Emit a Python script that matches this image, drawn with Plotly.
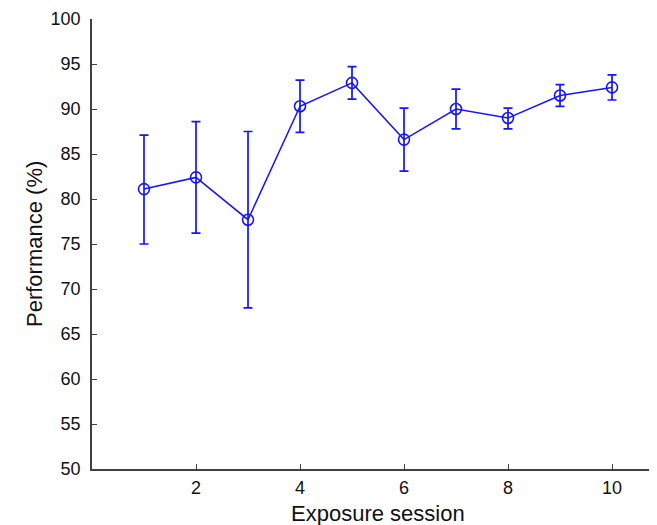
import plotly.graph_objects as go

sessions = [1, 2, 3, 4, 5, 6, 7, 8, 9, 10]
performance = [81.1, 82.4, 77.7, 90.3, 92.9, 86.6, 90.0, 89.0, 91.5, 92.4]
err_plus = [6.0, 6.2, 9.8, 2.9, 1.8, 3.5, 2.2, 1.1, 1.2, 1.4]
err_minus = [6.1, 6.2, 9.8, 2.9, 1.8, 3.5, 2.2, 1.2, 1.2, 1.4]

y_ticks = [50, 55, 60, 65, 70, 75, 80, 85, 90, 95, 100]
x_ticks = [2, 4, 6, 8, 10]

blue = "#1414ff"
fam = "Liberation Sans, Arial, sans-serif"

fig = go.Figure()
fig.add_trace(go.Scatter(
    x=sessions, y=performance, mode="lines+markers",
    line=dict(color=blue, width=1.5),
    marker=dict(symbol="circle-open", size=11, color=blue, line=dict(width=1.6, color=blue)),
    error_y=dict(type="data", symmetric=False, array=err_plus, arrayminus=err_minus,
                 color=blue, thickness=1.7, width=4.5),
    showlegend=False,
))

tick_font = dict(family=fam, size=18, color="#111111")
title_font = dict(family=fam, size=22, color="#111111")
fig.update_layout(
    width=657, height=525,
    margin=dict(l=84, r=8, t=11, b=64, autoexpand=False),
    plot_bgcolor="white", paper_bgcolor="white",
    font=tick_font,
    xaxis=dict(range=[0, 10.865], tickvals=x_ticks, ticks="inside", ticklen=5,
               tickcolor="#404040", showline=True, linecolor="#404040", linewidth=1.5,
               showgrid=False, zeroline=False, tickfont=tick_font, ticklabelstandoff=2,
               automargin=False),
    yaxis=dict(range=[50, 100], tickvals=y_ticks, ticks="inside", ticklen=5,
               tickcolor="#404040", showline=True, linecolor="#404040", linewidth=1.5,
               showgrid=False, zeroline=False, tickfont=tick_font, ticklabelstandoff=6,
               automargin=False),
    annotations=[
        dict(text="Exposure session", xref="paper", yref="paper", x=0.506, y=0,
             xanchor="center", yanchor="middle", yshift=-44, showarrow=False, font=title_font),
        dict(text="Performance (%)", xref="paper", yref="paper", x=0, y=0.5,
             xanchor="center", yanchor="middle", xshift=-58, textangle=-90,
             showarrow=False, font=title_font),
    ],
)

fig.write_html("out.html")
